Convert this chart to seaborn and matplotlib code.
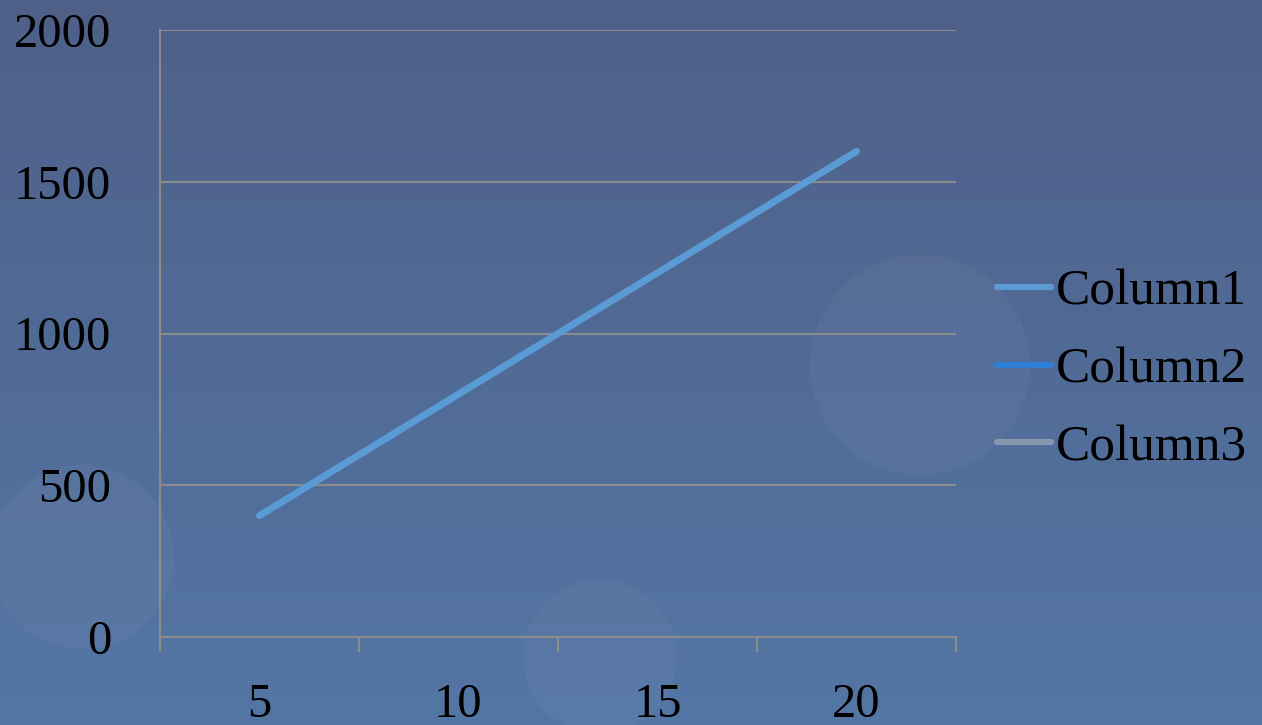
import numpy as np
import pandas as pd
import matplotlib
matplotlib.use("Agg")
import matplotlib.pyplot as plt
from matplotlib.lines import Line2D
from matplotlib.patches import Circle
import seaborn as sns

categories = ["5", "10", "15", "20"]
column1 = [400, 800, 1200, 1600]
series_names = ["Column1", "Column2", "Column3"]
series_colors = ["#5b9bd5", "#2e7fd6", "#8896ad"]
y_ticks = [0, 500, 1000, 1500, 2000]

sns.set_theme(style="white")
plt.rcParams["font.family"] = ["Liberation Serif", "DejaVu Serif"]

fig = plt.figure(figsize=(12.62, 7.25), dpi=100)

# background gradient
bg = fig.add_axes([0, 0, 1, 1], zorder=-10)
grad = np.linspace(0, 1, 256)[:, None]
top = np.array([78, 96, 136]) / 255
bot = np.array([84, 118, 165]) / 255
img = top[None, None, :] * (1 - grad[:, :, None]) + bot[None, None, :] * grad[:, :, None]
img = np.repeat(img, 4, axis=1)
bg.imshow(img, aspect="auto", extent=[0, 1262, 725, 0])
for (cx, cy, r) in [(920, 365, 110), (82, 557, 92), (600, 657, 77)]:
    bg.add_patch(Circle((cx, cy), r, color="white", alpha=0.035, lw=0))
bg.set_xlim(0, 1262)
bg.set_ylim(725, 0)
bg.axis("off")

ax = fig.add_axes([160 / 1262, 1 - 637 / 725, (956 - 160) / 1262, (637 - 30) / 725])
ax.patch.set_alpha(0)

df = pd.DataFrame({"x": np.arange(len(categories)), "y": column1})
sns.lineplot(data=df, x="x", y="y", ax=ax, color=series_colors[0], lw=5,
             solid_capstyle="round")

ax.set_xlim(-0.5, len(categories) - 0.5)
ax.set_ylim(0, 2000)
ax.set_yticks(y_ticks)
ax.set_yticklabels([str(v) for v in y_ticks])
ax.set_xticks(np.arange(len(categories)))
ax.set_xticklabels(categories)
ax.set_xticks(np.arange(len(categories) + 1) - 0.5, minor=True)
ax.set_xlabel("")
ax.set_ylabel("")

grid_c = "#8c8c8c"
ax.yaxis.grid(True, color=grid_c, lw=1.5)
ax.xaxis.grid(False)
for s in ["top", "right"]:
    ax.spines[s].set_visible(False)
for s in ["left", "bottom"]:
    ax.spines[s].set_color(grid_c)
    ax.spines[s].set_linewidth(1.5)
ax.tick_params(axis="y", length=11, width=1.5, color=grid_c, pad=24, labelsize=35, labelcolor="black")
ax.tick_params(axis="x", which="major", length=0, pad=33, labelsize=35, labelcolor="black")
ax.tick_params(axis="x", which="minor", length=11, width=1.5, color=grid_c, direction="out", bottom=True)

handles = [Line2D([0], [0], color=c, lw=4.5, solid_capstyle="round") for c in series_colors]
fig.legend(handles, series_names, loc="center left", bbox_to_anchor=(997 / 1262, 1 - 370 / 725),
           frameon=False, fontsize=37, handlelength=1.05, handletextpad=0.1,
           labelspacing=0.6, borderpad=0, borderaxespad=0, labelcolor="black")

fig.savefig("out.png", dpi=100)
